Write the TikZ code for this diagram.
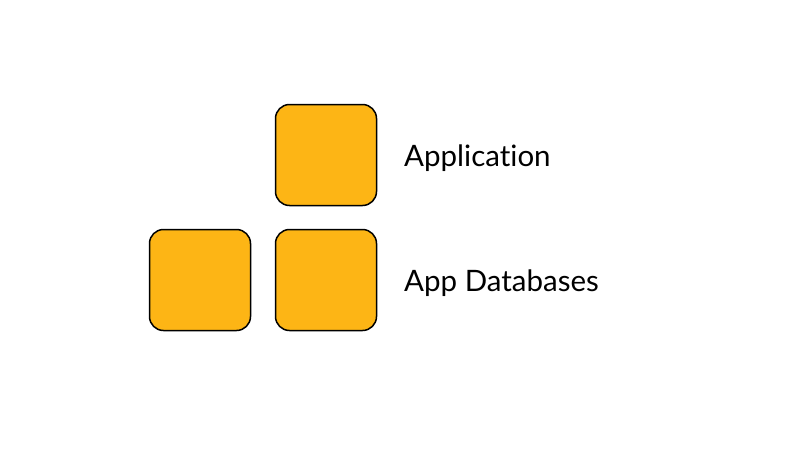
\documentclass[tikz,border=0pt]{standalone}
\usepackage{fontspec}
\setmainfont[Ligatures={NoCommon,NoRare}]{Lato}
\definecolor{boxfill}{RGB}{253,181,21}
\begin{document}
\begin{tikzpicture}[x=1pt,y=-1pt,
  tile/.style={draw=black,line width=1.5pt,fill=boxfill,rounded corners=14pt,minimum width=101pt,minimum height=101pt,inner sep=0pt},
  lbl/.style={anchor=base west,inner sep=0pt,font=\fontsize{29.5}{34}\selectfont}]
\useasboundingbox (0,0) rectangle (800,450);
\node[tile] (app) at (326,155) {};
\node[tile] (db1) at (200,280) {};
\node[tile] (db2) at (326,280) {};
\node[lbl] (applbl) at (404,166) {Application};
\node[lbl] (dblbl) at (404,291) {App Databases};
\end{tikzpicture}
\end{document}
